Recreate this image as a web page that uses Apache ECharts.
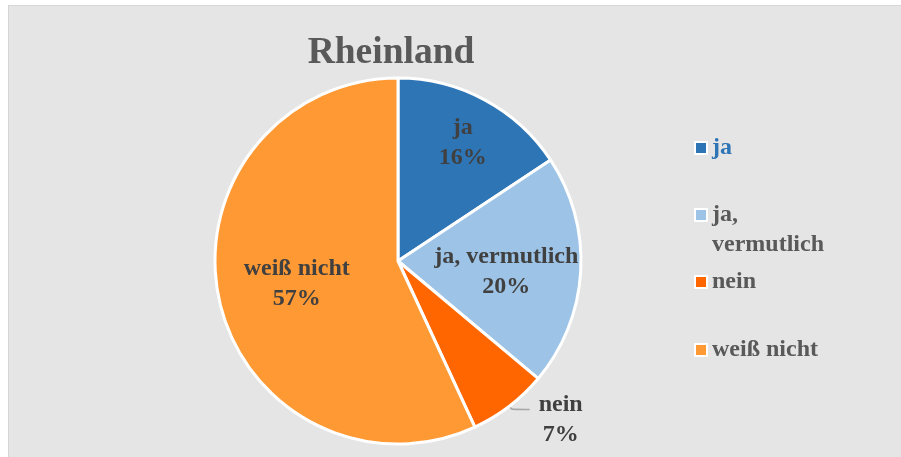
<!DOCTYPE html>
<html>
<head>
<meta charset="utf-8">
<script src="https://cdn.jsdelivr.net/npm/echarts@6/dist/echarts.min.js"></script>
<style>
  html, body { margin: 0; padding: 0; background: #fff; }
  #chart {
    position: absolute; left: 8px; top: 5px;
    width: 900px; height: 460px;
    border: 1px solid #d6d6d6; background: #e5e5e5;
  }
</style>
</head>
<body>
<div id="chart"></div>
<script>
'use strict';

const chartTitle = 'Rheinland';
const categories = ['ja', 'ja, vermutlich', 'nein', 'weiß nicht'];
const shares = [15.7, 20.4, 7.0, 56.9];
const colors = ['#2e75b6', '#9dc3e6', '#ff6600', '#ff9933'];

const FONT = '"Liberation Serif", "DejaVu Serif", serif';
const TEXT_SIZE = 24;

// nudges so the inside labels sit where the original has them
const labelShift = [[20, -35], [14, 5], [0, 0], [-9, 2]];

function legendFor(name, top, color) {
  return {
    orient: 'vertical',
    left: 680,
    top: top,
    icon: 'rect',
    itemWidth: 12,
    itemHeight: 12,
    itemStyle: { borderColor: '#fff', borderWidth: 2 },
    selectedMode: false,
    data: [name],
    // wrapped item gets an empty first line so the icon lines up with "ja,"
    formatter: (n) => (n.indexOf(', ') >= 0 ? '\n' + n.replace(', ', ',\n') : n),
    textStyle: {
      fontFamily: FONT, fontWeight: 'bold', fontSize: TEXT_SIZE,
      lineHeight: 30, color: color || '#595959',
    },
  };
}

const el = document.getElementById('chart');
const chart = echarts.init(el, null, { renderer: 'canvas' });

chart.setOption({
  backgroundColor: 'transparent',
  color: colors,
  animation: false,
  title: {
    text: chartTitle,
    left: 377,
    top: 23,
    textAlign: 'center',
    textStyle: { fontFamily: FONT, fontWeight: 'bold', fontSize: 37.5, color: '#595959' },
  },
  legend: [
    legendFor(categories[0], 122, colors[0]),
    legendFor(categories[1], 159),
    legendFor(categories[2], 256),
    legendFor(categories[3], 324),
  ],
  series: [{
    type: 'pie',
    center: [389, 255],
    radius: 183,
    startAngle: 90,
    clockwise: true,
    percentPrecision: 0,
    itemStyle: { borderColor: '#fff', borderWidth: 3 },
    label: {
      position: 'inside',
      fontFamily: FONT, fontWeight: 'bold', fontSize: TEXT_SIZE, lineHeight: 30,
      color: '#404040',
      formatter: '{b}\n{d}%',
    },
    labelLayout: (p) => {
      const s = labelShift[p.dataIndex] || [0, 0];
      return { dx: s[0], dy: s[1] };
    },
    data: categories.map((name, i) => {
      const d = { name: name, value: shares[i] };
      if (name === 'nein') {
        d.label = {
          position: 'outside',
          padding: [20, 0, 0, 0],
          formatter: (p) => '{n|' + p.name + '}\n{n|' + p.percent + '%}',
          rich: {
            n: {
              width: 52, align: 'center',
              fontFamily: FONT, fontWeight: 'bold', fontSize: TEXT_SIZE, lineHeight: 30, color: '#404040',
            },
          },
        };
        d.labelLine = {
          show: true, length: 4, length2: 18, smooth: true,
          lineStyle: { color: '#a6a6a6', width: 1.5 },
        };
      }
      return d;
    }),
  }],
});

window.addEventListener('resize', () => chart.resize());
</script>
</body>
</html>
